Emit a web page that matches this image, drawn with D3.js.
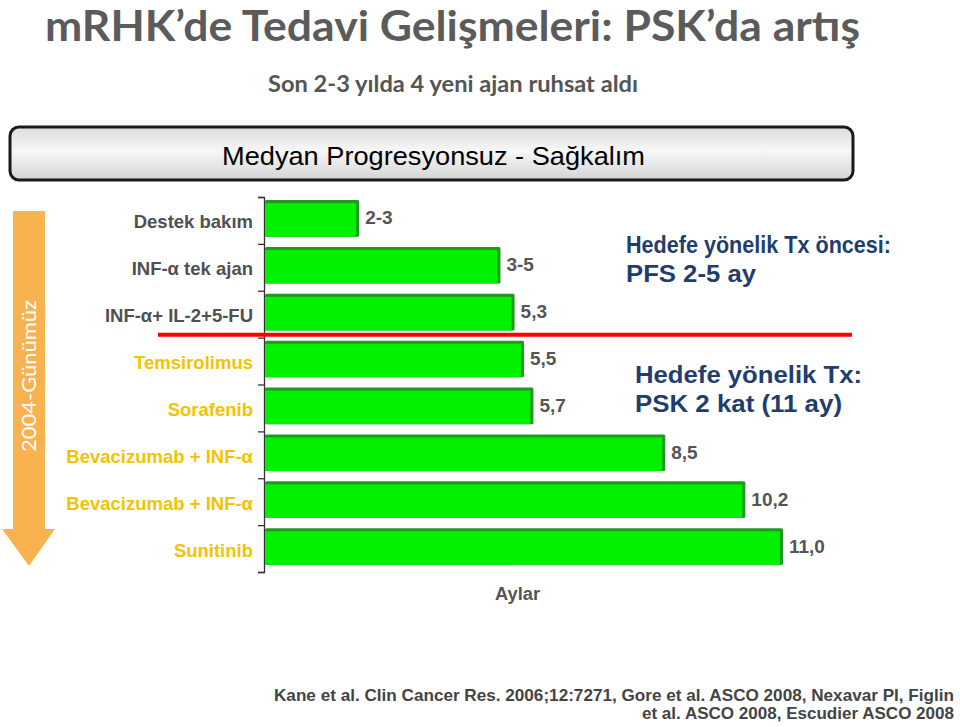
<!DOCTYPE html>
<html lang="tr">
<head>
<meta charset="UTF-8">
<title>mRHK PSK</title>
<style>
  body { margin: 0; background: #fff; }
  svg { display: block; }
</style>
</head>
<body>
<script src="https://cdnjs.cloudflare.com/ajax/libs/d3/7.8.5/d3.min.js"></script>
<script>
  // veriler
  const categories = ['Destek bakım', 'INF-α  tek ajan', 'INF-α+ IL-2+5-FU', 'Temsirolimus',
    'Sorafenib', 'Bevacizumab + INF-α', 'Bevacizumab + INF-α', 'Sunitinib']
  const values = [2.0, 5.0, 5.3, 5.5, 5.7, 8.5, 10.2, 11.0]
  const valueLabels = ['2-3', '3-5', '5,3', '5,5', '5,7', '8,5', '10,2', '11,0']
  const targetedFrom = 3   // bu indeksten itibaren hedefe yönelik tedaviler

  const width = 960
  const height = 727

  const svg = d3.select('body').append('svg')
    .attr('width', width)
    .attr('height', height)

  const defs = svg.append('defs')
  const grad = defs.append('linearGradient')
    .attr('id', 'boxGrad')
    .attr('x1', 0).attr('y1', 0).attr('x2', 0).attr('y2', 1)
  grad.append('stop').attr('offset', '0%').attr('stop-color', '#dcdcdc')
  grad.append('stop').attr('offset', '45%').attr('stop-color', '#f7f7f7')
  grad.append('stop').attr('offset', '100%').attr('stop-color', '#d4d4d4')

  // başlık
  svg.append('text')
    .attr('x', 45).attr('y', 41)
    .attr('font-family', 'Lato, Open Sans, sans-serif')
    .attr('font-weight', 'bold')
    .attr('font-size', 42)
    .attr('fill', '#5b5b5b')
    .attr('textLength', 815)
    .attr('lengthAdjust', 'spacingAndGlyphs')
    .text('mRHK’de Tedavi Gelişmeleri: PSK’da artış')

  svg.append('text')
    .attr('x', 268).attr('y', 92)
    .attr('font-family', 'Lato, Open Sans, sans-serif')
    .attr('font-weight', 'bold')
    .attr('font-size', 22)
    .attr('fill', '#555')
    .attr('textLength', 370)
    .attr('lengthAdjust', 'spacingAndGlyphs')
    .text('Son 2-3 yılda 4 yeni ajan ruhsat aldı')

  // kutu
  svg.append('rect')
    .attr('x', 10).attr('y', 127)
    .attr('width', 843).attr('height', 53)
    .attr('rx', 9)
    .attr('fill', 'url(#boxGrad)')
    .attr('stroke', '#1a1a1a')
    .attr('stroke-width', 3)

  svg.append('text')
    .attr('x', 222).attr('y', 165)
    .attr('font-family', 'Liberation Sans, Arial, sans-serif')
    .attr('font-size', 25)
    .attr('fill', '#000')
    .attr('textLength', 423)
    .attr('lengthAdjust', 'spacingAndGlyphs')
    .text('Medyan Progresyonsuz - Sağkalım')

  // sol ok
  svg.append('path')
    .attr('d', 'M13,211 L45,211 L45,529 L55,529 L29,566 L2,529 L13,529 Z')
    .attr('fill', '#f8b24f')

  svg.append('text')
    .attr('transform', 'translate(36,452) rotate(-90)')
    .attr('font-family', 'Lato, Open Sans, sans-serif')
    .attr('font-size', 20)
    .attr('fill', '#fff')
    .attr('textLength', 152)
    .attr('lengthAdjust', 'spacingAndGlyphs')
    .text('2004-Günümüz')

  // ölçekler
  const x = d3.scaleLinear()
    .domain([0, 11])
    .range([265, 783])

  const y = d3.scaleBand()
    .domain(d3.range(categories.length))
    .range([197, 572])
    .paddingInner(0.22)
    .paddingOuter(0.11)
    .align(0.3)

  const yIdx = d3.scaleLinear()
    .domain([0, categories.length])
    .range([197, 572])

  // eksen
  const axis = svg.append('g')
    .attr('class', 'y-axis')
    .attr('transform', 'translate(264,0)')
    .call(d3.axisLeft(yIdx).ticks(categories.length).tickSize(6).tickFormat(''))
  axis.select('.domain').attr('stroke', '#333').attr('stroke-width', 1.3)
  axis.selectAll('.tick line').attr('stroke', '#333').attr('stroke-width', 1.3)

  // çubuklar
  const bars = svg.selectAll('.bar')
    .data(values)
    .enter()
    .append('g')
    .attr('class', 'bar')

  bars.append('rect')
    .attr('x', x(0))
    .attr('y', (d, i) => y(i))
    .attr('width', d => x(d) - x(0))
    .attr('height', y.bandwidth())
    .attr('rx', 1.5)
    .attr('fill', '#1f9a1f')

  bars.append('rect')
    .attr('x', x(0))
    .attr('y', (d, i) => y(i) + 3)
    .attr('width', d => x(d) - x(0) - 3)
    .attr('height', y.bandwidth() - 3)
    .attr('fill', '#00f000')

  // değer etiketleri
  svg.selectAll('.val')
    .data(values)
    .enter()
    .append('text')
    .attr('class', 'val')
    .attr('x', d => x(d) + 6)
    .attr('y', (d, i) => y(i) + y.bandwidth() / 2 + 6)
    .attr('font-family', 'Liberation Sans, Arial, sans-serif')
    .attr('font-weight', 'bold')
    .attr('font-size', 19)
    .attr('fill', '#555')
    .text((d, i) => valueLabels[i])

  // kategori etiketleri
  svg.selectAll('.cat')
    .data(categories)
    .enter()
    .append('text')
    .attr('class', 'cat')
    .attr('x', 253)
    .attr('y', (d, i) => yIdx(i + 0.5) + 8)
    .attr('text-anchor', 'end')
    .attr('font-family', 'Liberation Sans, Arial, sans-serif')
    .attr('font-weight', 'bold')
    .attr('font-size', 18.5)
    .attr('fill', (d, i) => i < targetedFrom ? '#505050' : '#f5c200')
    .text(d => d)

  // kırmızı ayırıcı çizgi
  svg.append('line')
    .attr('x1', 158).attr('x2', 852)
    .attr('y1', yIdx(targetedFrom) - 3).attr('y2', yIdx(targetedFrom) - 3)
    .attr('stroke', '#ff0000')
    .attr('stroke-width', 4)

  // açıklamalar
  const notes = [
    { x: 626, y: 253, w: 265, t: 'Hedefe yönelik Tx öncesi:' },
    { x: 626, y: 282, w: 130, t: 'PFS 2-5 ay' },
    { x: 635, y: 383, w: 227, t: 'Hedefe yönelik Tx:' },
    { x: 635, y: 412, w: 207, t: 'PSK 2 kat (11 ay)' }
  ]
  svg.selectAll('.note')
    .data(notes)
    .enter()
    .append('text')
    .attr('class', 'note')
    .attr('x', d => d.x)
    .attr('y', d => d.y)
    .attr('font-family', 'Liberation Sans, Arial, sans-serif')
    .attr('font-weight', 'bold')
    .attr('font-size', 24.5)
    .attr('fill', '#1f3d6e')
    .attr('textLength', d => d.w)
    .attr('lengthAdjust', 'spacingAndGlyphs')
    .text(d => d.t)

  // eksen başlığı
  svg.append('text')
    .attr('x', 495).attr('y', 600)
    .attr('font-family', 'Liberation Sans, Arial, sans-serif')
    .attr('font-weight', 'bold')
    .attr('font-size', 18)
    .attr('fill', '#555')
    .attr('textLength', 45)
    .attr('lengthAdjust', 'spacingAndGlyphs')
    .text('Aylar')

  // kaynaklar
  svg.append('text')
    .attr('x', 274).attr('y', 701)
    .attr('font-family', 'Liberation Sans, Arial, sans-serif')
    .attr('font-weight', 'bold')
    .attr('font-size', 16.5)
    .attr('fill', '#444')
    .attr('textLength', 680)
    .attr('lengthAdjust', 'spacingAndGlyphs')
    .text('Kane et al. Clin Cancer Res. 2006;12:7271, Gore et al. ASCO 2008, Nexavar PI, Figlin')

  svg.append('text')
    .attr('x', 642).attr('y', 719)
    .attr('font-family', 'Liberation Sans, Arial, sans-serif')
    .attr('font-weight', 'bold')
    .attr('font-size', 16.5)
    .attr('fill', '#444')
    .attr('textLength', 312)
    .attr('lengthAdjust', 'spacingAndGlyphs')
    .text('et al. ASCO 2008, Escudier ASCO 2008')
</script>
</body>
</html>
